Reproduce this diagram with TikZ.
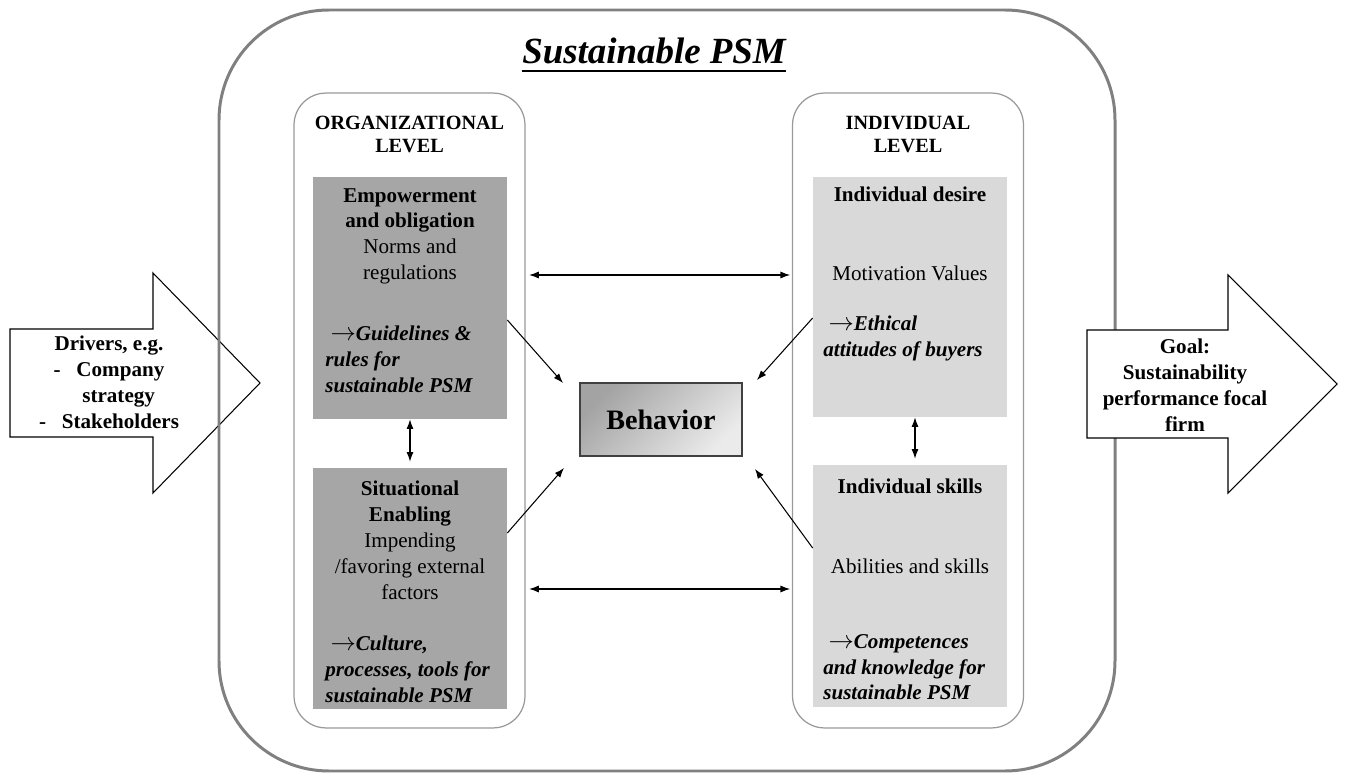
\documentclass[tikz,border=0pt]{standalone}
\usepackage{fontspec}
\setmainfont{Liberation Serif}
\usetikzlibrary{arrows.meta}

\definecolor{framegray}{HTML}{808080}
\definecolor{panelgray}{HTML}{999999}
\definecolor{orgfill}{HTML}{A6A6A6}
\definecolor{indfill}{HTML}{D9D9D9}

\newcommand{\leadsarrow}{\hspace*{3pt}{\fontsize{13.5}{14}\selectfont$\rightarrow$}}

\tikzset{
	bigarrow/.style={draw=black, fill=white, line width=0.6pt},
	panel/.style={draw=panelgray, fill=white, line width=0.7pt, rounded corners=0.64cm, minimum width=4.62cm, minimum height=12.7cm},
	orgbox/.style={fill=orgfill, minimum width=3.88cm},
	indbox/.style={fill=indfill, minimum width=3.88cm},
	behav/.style={draw=black!75, line width=0.6pt, top color=black!36, bottom color=black!8, shading angle=45, minimum width=3.24cm, minimum height=1.46cm, font=\fontsize{16}{19}\selectfont\bfseries},
	txt/.style={font=\fontsize{12}{14.7}\selectfont, align=center, inner sep=0pt},
	bftxt/.style={font=\fontsize{12}{14.7}\selectfont\bfseries, align=center, inner sep=0pt},
	notetxt/.style={font=\fontsize{12}{14.7}\selectfont\bfseries\itshape, align=left, inner sep=0pt},
	lvltxt/.style={font=\fontsize{11.5}{12.8}\selectfont\bfseries, align=center, inner sep=0pt},
	link/.style={-{Latex[length=5.5pt,width=4pt]}, line width=0.6pt},
	dbl/.style={{Latex[length=5.5pt,width=4pt]}-{Latex[length=5.5pt,width=4pt]}, line width=0.6pt}
}

\begin{document}
\begin{tikzpicture}[x=0.02cm, y=-0.02cm]
	\useasboundingbox (0,0) rectangle (1346,773);
	
	%drivers arrow, the frame runs over it
	\draw[bigarrow] (10,329) -- (153,329) -- (153,273) -- (260,383) -- (153,493) -- (153,437) -- (10,437) -- cycle;
	\node[bftxt, anchor=north] (drivers) at (109,336) {Drivers, e.g.\\-\hspace{9pt}Company\\\hspace*{11pt}strategy\\-\hspace{9pt}Stakeholders};
	
	%outer frame and title
	\draw[framegray, line width=1.7pt, rounded corners=2.2cm] (219,10) rectangle (1115,771);
	\node[inner sep=0pt, anchor=base, font=\fontsize{21}{25}\selectfont\bfseries\itshape] (title) at (654,64) {Sustainable PSM};
	\draw[line width=1.6pt] ([yshift=-4pt]title.base west) -- ([yshift=-4pt]title.base east);
	
	%the two levels
	\node[panel] (orgpanel) at (409.5,410.5) {};
	\node[panel] (indpanel) at (908,410.5) {};
	\node[lvltxt, anchor=north] (orghead) at (409.5,116) {ORGANIZATIONAL\\LEVEL};
	\node[lvltxt, anchor=north] (indhead) at (908,116) {INDIVIDUAL\\LEVEL};
	
	%organizational boxes
	\node[orgbox, minimum height=4.84cm] (empbox) at (410,298) {};
	\node[txt, anchor=north] (emptxt) at (410,188) {\textbf{Empowerment}\\\textbf{and obligation}\\Norms and\\regulations};
	\node[notetxt, anchor=north west] (empnote) at (325,326) {\leadsarrow Guidelines \&\\rules for\\sustainable PSM};
	
	\node[orgbox, minimum height=4.82cm] (sitbox) at (410,588.5) {};
	\node[txt, anchor=north] (sittxt) at (410,481) {\textbf{Situational}\\\textbf{Enabling}\\Impending\\/favoring external\\factors};
	\node[notetxt, anchor=north west] (sitnote) at (325,636) {\leadsarrow Culture,\\processes, tools for\\sustainable PSM};
	
	%individual boxes
	\node[indbox, minimum height=4.8cm] (desbox) at (910,297) {};
	\node[bftxt, anchor=north] (destitle) at (910,187) {Individual desire};
	\node[txt, anchor=north] (destxt) at (910,266) {Motivation Values};
	\node[notetxt, anchor=north west] (desnote) at (823,316) {\leadsarrow Ethical\\attitudes of buyers};
	
	\node[indbox, minimum height=4.84cm] (skibox) at (910,586) {};
	\node[bftxt, anchor=north] (skititle) at (910,479) {Individual skills};
	\node[txt, anchor=north] (skitxt) at (910,559) {Abilities and skills};
	\node[notetxt, anchor=north west] (skinote) at (823,634) {\leadsarrow Competences\\and knowledge for\\sustainable PSM};
	
	%behavior in the middle
	\node[behav] (behav) at (661,419.5) {Behavior};
	
	%arrows
	\coordinate (hup) at (660,275);
	\coordinate (hlow) at (660,589);
	\draw[dbl, shorten <=2pt, shorten >=1pt] (orgpanel.east |- hup) -- (indpanel.west |- hup);
	\draw[dbl, shorten <=2pt, shorten >=1pt] (orgpanel.east |- hlow) -- (indpanel.west |- hlow);
	\draw[dbl] (empbox.south) -- ([yshift=0.12cm]sitbox.north);
	\draw[dbl] ([xshift=0.1cm]desbox.south) -- ([xshift=0.1cm,yshift=0.12cm]skibox.north);
	
	\coordinate (tipnw) at (563,383);
	\coordinate (tipne) at (757,380);
	\coordinate (tipsw) at (564,468);
	\coordinate (tipse) at (755,469);
	\draw[link] ([yshift=-0.44cm]empbox.east) -- (tipnw);
	\draw[link] ([yshift=1.11cm]sitbox.east) -- (tipsw);
	\draw[link] ([yshift=-0.42cm]desbox.west) -- (tipne);
	\draw[link] ([yshift=0.76cm]skibox.west) -- (tipse);
	
	%goal arrow, over the frame
	\draw[bigarrow] (1087,330) -- (1228,330) -- (1228,275) -- (1337,384) -- (1228,493) -- (1228,438) -- (1087,438) -- cycle;
	\node[bftxt, anchor=north] (goal) at (1185,339) {Goal:\\Sustainability\\performance focal\\firm};
	
\end{tikzpicture}
\end{document}
